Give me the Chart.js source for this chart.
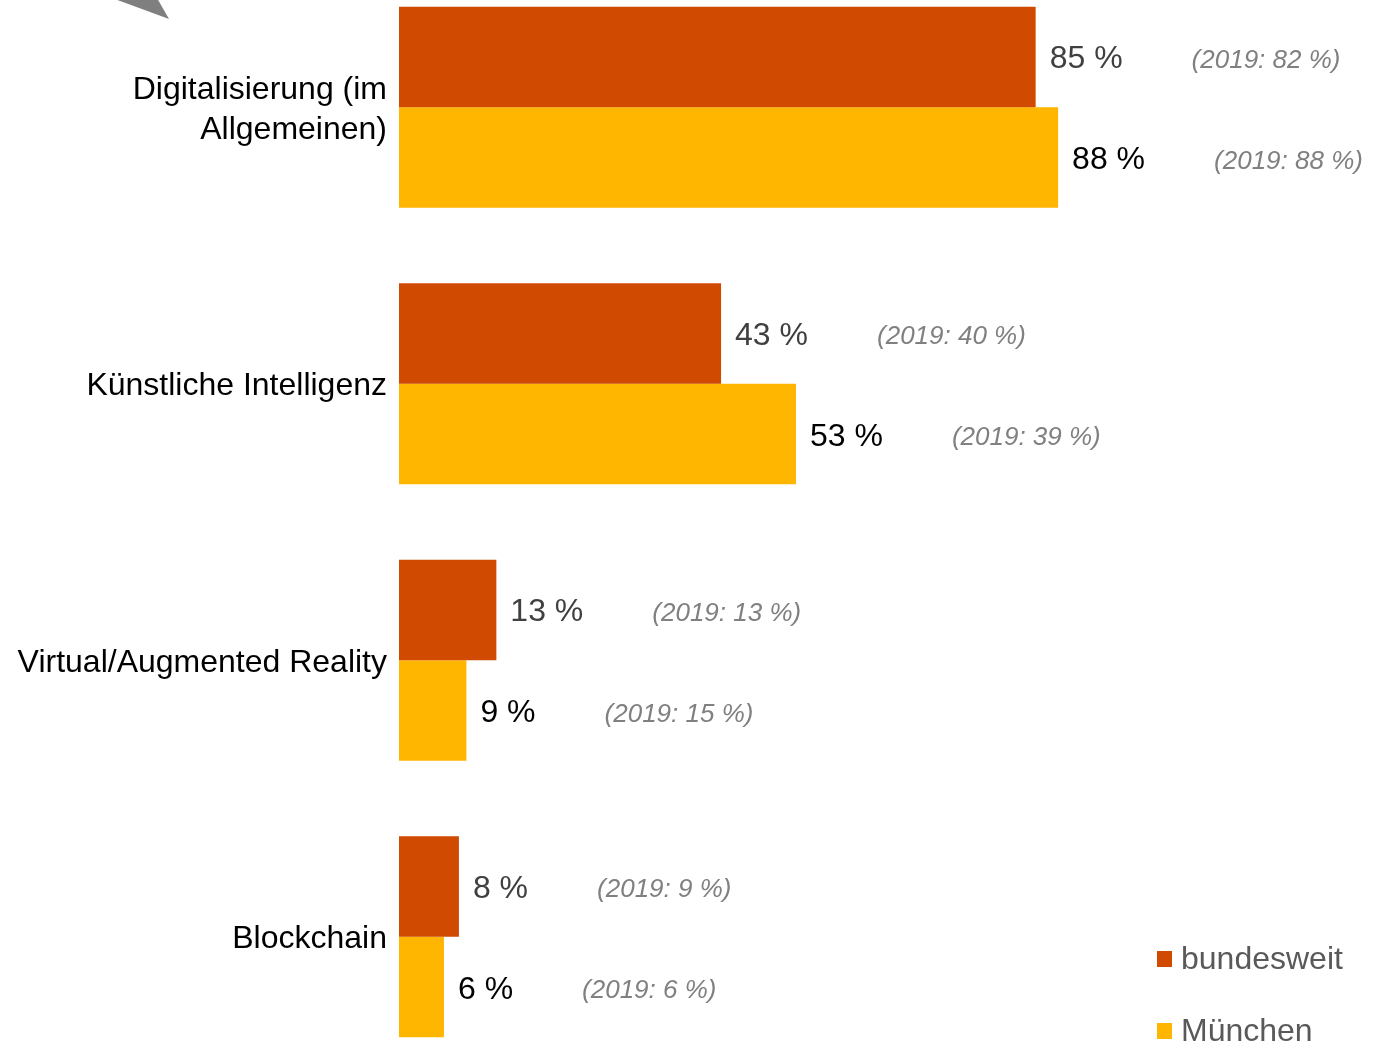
<!DOCTYPE html>
<html lang="de">
<head>
<meta charset="utf-8">
<title>Digitalisierungsthemen – bundesweit und München</title>
<script src="https://cdn.jsdelivr.net/npm/chart.js@4.4.1/dist/chart.umd.min.js"></script>
<style>
  html, body { margin: 0; padding: 0; background: #fff; overflow: hidden; }
  body { width: 1395px; height: 1048px; position: relative; }
  #wrap { position: absolute; left: 0; top: -31px; width: 1395px; height: 1106px; }
</style>
</head>
<body>
<div id="wrap"><canvas id="chart"></canvas></div>
<script>
// Themen und Anteile (in %)
const categories = [
  ["Digitalisierung (im", "Allgemeinen)"],
  "Künstliche Intelligenz",
  "Virtual/Augmented Reality",
  "Blockchain"
];
const seriesNames = ["bundesweit", "München"];
const bundesweit = [85, 43, 13, 8];
const muenchen = [88, 53, 9, 6];
const bundesweit2019 = [82, 40, 13, 9];
const muenchen2019 = [88, 39, 15, 6];

const COLORS = ["#D04A02", "#FFB600"];
const VALUE_COLORS = ["#404040", "#000000"];
const FONT = "'Liberation Sans', Arial, sans-serif";
const OFFSET_Y = 31; // canvas sits 31px above the page top

// Kategorienamen, Wertbeschriftungen, Vorjahreswerte, Legende und Pfeilspitze
const annotations = {
  id: "annotations",
  afterDatasetsDraw(chart) {
    const ctx = chart.ctx;
    const yScale = chart.scales.y;
    const prev = [bundesweit2019, muenchen2019];
    ctx.save();

    // Kategorienamen links, rechtsbündig an der Achse
    ctx.font = "32px " + FONT;
    ctx.fillStyle = "#000";
    ctx.textAlign = "right";
    ctx.textBaseline = "alphabetic";
    const lineH = 40;
    chart.data.labels.forEach((lab, i) => {
      const lines = Array.isArray(lab) ? lab : [lab];
      const cy = yScale.getPixelForValue(i);
      const first = cy - (lines.length - 1) * lineH / 2;
      lines.forEach((t, k) => {
        ctx.fillText(t, chart.chartArea.left - 12, first + k * lineH + 11.5);
      });
    });

    chart.data.datasets.forEach((ds, di) => {
      const meta = chart.getDatasetMeta(di);
      meta.data.forEach((bar, i) => {
        const v = ds.data[i];
        const label = v + " %";
        ctx.font = "32px " + FONT;
        ctx.fillStyle = VALUE_COLORS[di];
        ctx.textAlign = "left";
        ctx.textBaseline = "alphabetic";
        const x0 = bar.x + 14;
        ctx.fillText(label, x0, bar.y + 11.5);
        const w = ctx.measureText(label).width;
        ctx.font = "italic 26px " + FONT;
        ctx.fillStyle = "#808080";
        ctx.fillText("(2019: " + prev[di][i] + " %)", x0 + w + 69, bar.y + 11);
      });
    });

    // Legende unten rechts
    const lx = 1157, ly = [951 + OFFSET_Y, 1023 + OFFSET_Y];
    seriesNames.forEach((name, k) => {
      ctx.fillStyle = COLORS[k];
      ctx.fillRect(lx, ly[k], 15, 16);
      ctx.font = "32px " + FONT;
      ctx.fillStyle = "#595959";
      ctx.textAlign = "left";
      ctx.textBaseline = "alphabetic";
      ctx.fillText(name, lx + 24, ly[k] + 18);
    });

    // Pfeilspitze oben links
    ctx.fillStyle = "#7F7F7F";
    ctx.beginPath();
    ctx.moveTo(112, OFFSET_Y - 2);
    ctx.lineTo(157, OFFSET_Y - 2);
    ctx.lineTo(169, OFFSET_Y + 19);
    ctx.closePath();
    ctx.fill();
    ctx.restore();
  }
};

new Chart(document.getElementById("chart"), {
  type: "bar",
  data: {
    labels: categories,
    datasets: [
      { label: seriesNames[0], data: bundesweit, backgroundColor: COLORS[0] },
      { label: seriesNames[1], data: muenchen, backgroundColor: COLORS[1] }
    ]
  },
  options: {
    indexAxis: "y",
    responsive: true,
    maintainAspectRatio: false,
    animation: false,
    categoryPercentage: 0.727,
    barPercentage: 1.0,
    layout: { padding: { left: 399, right: 247, top: 0, bottom: 0 } },
    plugins: { legend: { display: false }, tooltip: { enabled: false } },
    scales: {
      x: { min: 0, max: 100, display: false },
      y: { display: false }
    }
  },
  plugins: [annotations]
});
</script>
</body>
</html>
